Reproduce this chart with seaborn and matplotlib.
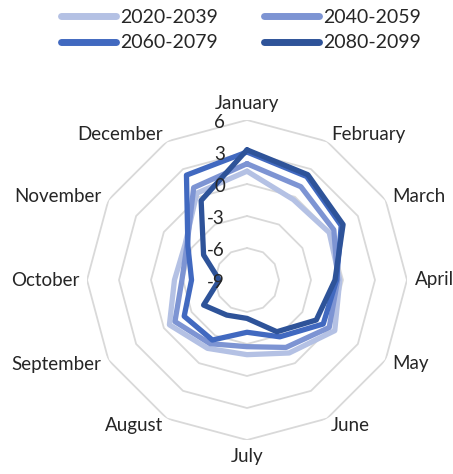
import numpy as np
import pandas as pd
import matplotlib
matplotlib.use("Agg")
import matplotlib.pyplot as plt
import seaborn as sns
from matplotlib.transforms import offset_copy

months = ["January", "February", "March", "April", "May", "June",
          "July", "August", "September", "October", "November", "December"]
periods = ["2020-2039", "2040-2059", "2060-2079", "2080-2099"]
v2020 = [1.2, -0.3, -0.1, -0.3, 0.5, -1.1, -2.0, -1.6, -0.6, -2.2, -2.3, 0.4]
v2040 = [1.9, 1.1, 0.4, -0.5, -0.1, -1.7, -2.75, -2.1, -1.2, -2.9, -2.5, 1.0]
v2060 = [3.0, 2.2, 1.2, -0.6, -0.75, -2.85, -4.1, -2.5, -2.2, -3.8, -2.6, 2.35]
v2080 = [3.2, 2.4, 1.4, -0.75, -1.5, -3.4, -5.4, -5.2, -4.3, -6.4, -4.3, -0.4]
ticks = [6, 3, 0, -3, -6, -9]
colors = ["#b4c1e4", "#7d94d3", "#4169c0", "#2e5399"]

sns.set_style("white")
plt.rcParams['font.family'] = ['Lato', 'DejaVu Sans']

series = [v2020, v2040, v2060, v2080]
theta = np.arange(len(months)) * 2 * np.pi / len(months)
rows = []
for p, vals in zip(periods, series):
    for i in list(range(len(months))) + [0]:
        rows.append({"period": p, "theta": theta[i], "value": vals[i]})
df = pd.DataFrame(rows)

fig = plt.figure(figsize=(4.53, 4.74), dpi=100)
ax = fig.add_axes([87 / 453, 34 / 474, 320 / 453, 320 / 474], projection='polar')
ax.set_theta_zero_location('N')
ax.set_theta_direction(-1)

# polygonal grid
closed = np.append(theta, theta[0])
for lv in ticks[:-1]:
    ax.plot(closed, [lv] * len(closed), color="#d9d9d9", lw=1.3, zorder=0)

sns.lineplot(data=df, x="theta", y="value", hue="period", hue_order=periods,
             palette=colors, sort=False, estimator=None, units="period",
             lw=3.8, ax=ax, legend=True)
for ln, z in zip(ax.lines[-4:], range(4)):
    ln.set_zorder(2 + z)
    ln.set_solid_joinstyle('round')

ax.set_ylim(-9, 6)
ax.grid(False)
ax.spines['polar'].set_visible(False)
ax.set_xticks([])
ax.set_yticks([])
ax.set_xlabel("")
ax.set_ylabel("")

txtcol = "#262626"
# radial tick labels
tr = offset_copy(ax.transData, fig=fig, x=-22, y=-3, units='dots')
for t in ticks:
    ax.text(0, t, str(t), transform=tr, ha='right', va='center', fontsize=13.5, color=txtcol)

# month labels
rlab = 168 / (160 / 15) - 9
for i, m in enumerate(months):
    ang = theta[i]
    if i == 0:
        ha, va = 'center', 'bottom'
    elif i == 6:
        ha, va = 'center', 'top'
    elif i < 6:
        ha, va = 'left', 'center'
    else:
        ha, va = 'right', 'center'
    ax.text(ang, rlab, m, ha=ha, va=va, fontsize=13.5, color=txtcol, clip_on=False)

handles, labels = ax.get_legend_handles_labels()
if ax.get_legend() is not None:
    ax.get_legend().remove()
for h in handles:
    h.set_linewidth(5)
    h.set_solid_capstyle('round')
order = [0, 2, 1, 3]
fig.legend([handles[k] for k in order], [labels[k] for k in order], ncol=2,
           loc='upper center', bbox_to_anchor=(241 / 453, 0.998),
           frameon=False, fontsize=14, handlelength=2.8, handletextpad=0.2,
           columnspacing=2.4, labelspacing=0.45, borderaxespad=0.0, labelcolor=txtcol)

fig.savefig("out.png", dpi=100)
